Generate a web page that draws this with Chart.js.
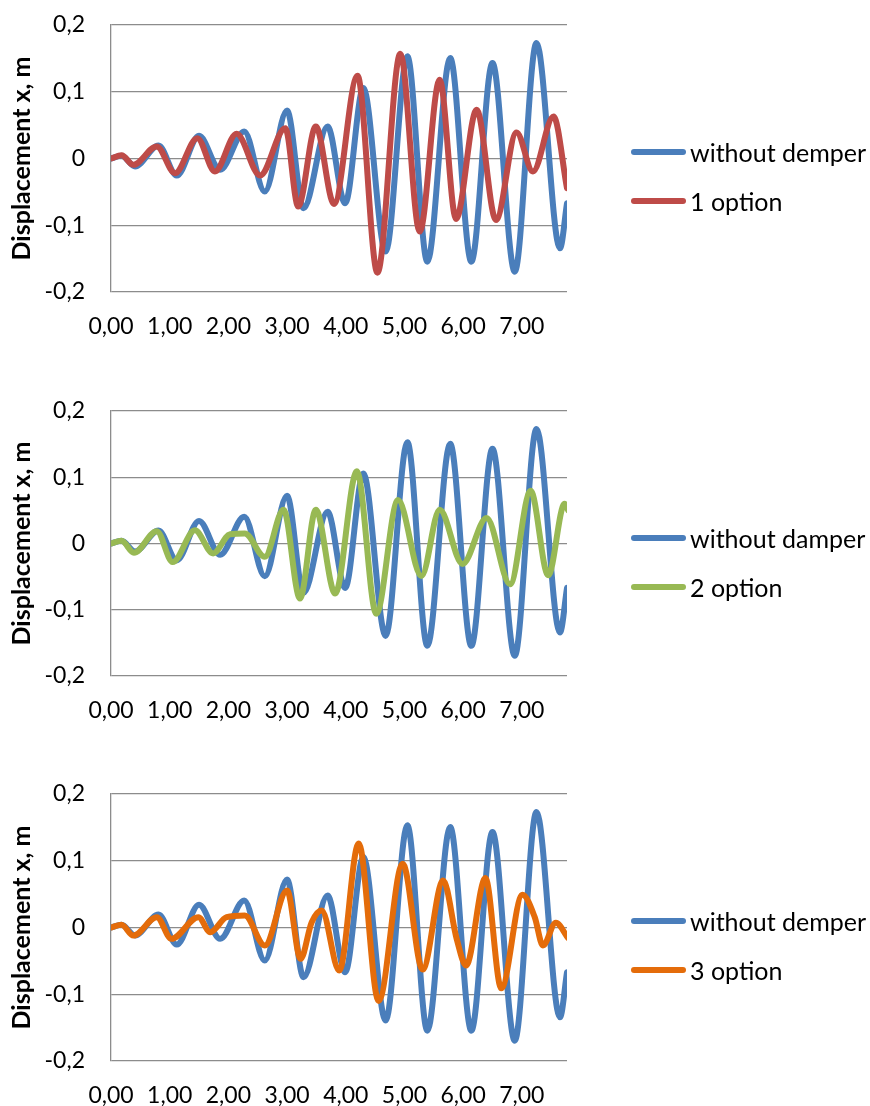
<!DOCTYPE html>
<html>
<head>
<meta charset="utf-8">
<script src="https://cdn.jsdelivr.net/npm/chart.js@4.4.1/dist/chart.umd.min.js"></script>
<style>
  body { margin: 0; width: 870px; height: 1106px; overflow: hidden; background: #fff; font-family: Lato, sans-serif; }
  .panel { position: absolute; left: 0; width: 870px; }
  .legend { position: absolute; left: 631px; top: 128px; }
  .item { height: 48.5px; display: flex; align-items: center; font-size: 25px; color: #000; }
  .swatch { width: 55px; height: 6px; border-radius: 3px; margin-right: 4px; }
</style>
</head>
<body>
<div class="panel" id="panel1" style="top:0"><canvas id="chart1"></canvas><div class="legend" id="legend1"></div></div>
<div class="panel" id="panel2" style="top:386px"><canvas id="chart2"></canvas><div class="legend" id="legend2"></div></div>
<div class="panel" id="panel3" style="top:769px"><canvas id="chart3"></canvas><div class="legend" id="legend3"></div></div>
<script>
// time, s  /  displacement, m
const timeBase = [0, 0.18, 0.41, 0.81, 1.12, 1.50, 1.86, 2.27, 2.62, 3.00, 3.28, 3.69, 3.99, 4.30, 4.68, 5.05, 5.39, 5.78, 6.14, 6.50, 6.88, 7.25, 7.65, 7.77];
const dispBase = [0, 0.004, -0.012, 0.0195, -0.0255, 0.034, -0.017, 0.0405, -0.0495, 0.072, -0.0745, 0.048, -0.067, 0.1055, -0.1395, 0.153, -0.1545, 0.1505, -0.1545, 0.143, -0.1695, 0.173, -0.1345, -0.067];

const timeOpt1 = [0, 0.18, 0.38, 0.78, 1.09, 1.47, 1.77, 2.14, 2.54, 2.97, 3.19, 3.49, 3.80, 4.20, 4.54, 4.93, 5.26, 5.60, 5.88, 6.23, 6.56, 6.91, 7.19, 7.54, 7.77];
const dispOpt1 = [0, 0.005, -0.0095, 0.018, -0.022, 0.0305, -0.0195, 0.037, -0.0255, 0.0455, -0.072, 0.048, -0.068, 0.124, -0.171, 0.157, -0.1095, 0.118, -0.0905, 0.073, -0.092, 0.039, -0.0195, 0.063, -0.0445];

const timeOpt2 = [0, 0.18, 0.39, 0.78, 1.05, 1.43, 1.74, 2.03, 2.28, 2.62, 2.94, 3.22, 3.49, 3.82, 4.19, 4.52, 4.89, 5.29, 5.60, 5.99, 6.40, 6.80, 7.15, 7.45, 7.73, 7.79];
const dispOpt2 = [0, 0.004, -0.014, 0.0185, -0.028, 0.020, -0.015, 0.014, 0.015, -0.020, 0.051, -0.083, 0.051, -0.0755, 0.109, -0.106, 0.0655, -0.049, 0.051, -0.031, 0.0385, -0.0615, 0.0795, -0.048, 0.060, 0.050];

const timeOpt3 = [0, 0.18, 0.38, 0.78, 1.03, 1.49, 1.69, 1.97, 2.28, 2.62, 3.00, 3.23, 3.42, 3.59, 3.89, 4.22, 4.56, 4.97, 5.31, 5.66, 5.89, 6.05, 6.38, 6.65, 7.01, 7.22, 7.36, 7.58, 7.79];
const dispOpt3 = [0, 0.004, -0.012, 0.0155, -0.017, 0.0155, -0.007, 0.0155, 0.018, -0.027, 0.0555, -0.047, 0.008, 0.0255, -0.0645, 0.126, -0.11, 0.0955, -0.063, 0.0705, -0.017, -0.057, 0.074, -0.091, 0.049, 0.0155, -0.027, 0.007, -0.016];

const xTicks = [0, 1, 2, 3, 4, 5, 6, 7];
const yTicks = [-0.2, -0.1, 0, 0.1, 0.2];
const xMax = 7.77;

const yTitle = 'Displacement x, m';
const gridColor = '#8c8c8c';

let charts = {};

function toPoints(xs, ys) {
  return xs.map((x, i) => ({ x, y: ys[i] }));
}

function comma(v, digits) {
  return v.toFixed(digits).replace('.', ',');
}

function makeChart(n, baseLabel, label, xs, ys, color, height) {
  const canvas = document.getElementById('chart' + n);
  canvas.width = 870;
  canvas.height = height;

  const datasets = [
    { label: baseLabel, data: toPoints(timeBase, dispBase), borderColor: '#4a7ebb', order: 1 },
    { label: label, data: toPoints(xs, ys), borderColor: color, order: 0 }
  ];
  datasets.forEach(d => {
    d.borderWidth = 6;
    d.pointRadius = 0;
    d.cubicInterpolationMode = 'monotone';
    d.borderCapStyle = 'round';
    d.borderJoinStyle = 'round';
    d.fill = false;
  });

  charts[n] = new Chart(canvas, {
    type: 'line',
    data: { datasets },
    options: {
      responsive: false,
      animation: false,
      layout: { padding: { left: 0, right: 303, top: 25, bottom: 0 } },
      plugins: { legend: { display: false }, tooltip: { enabled: false } },
      scales: {
        x: {
          type: 'linear',
          min: 0,
          max: xMax,
          afterFit: s => { s.height = 58; },
          afterBuildTicks: s => { s.ticks = xTicks.map(v => ({ value: v })); },
          grid: { display: false },
          border: { display: false },
          ticks: {
            padding: 13,
            maxRotation: 0,
            autoSkip: false,
            color: '#000',
            font: { family: 'Lato', size: 23 },
            callback: v => comma(v, 2)
          }
        },
        y: {
          min: -0.2,
          max: 0.2,
          // fixed axis width, and labels may hang over the top/bottom edge
          afterFit: s => { s.width = 111; s.paddingTop = 0; s.paddingBottom = 0; },
          afterBuildTicks: s => { s.ticks = yTicks.map(v => ({ value: v })); },
          grid: { color: gridColor, lineWidth: 1.3, drawTicks: false },
          border: { display: true, color: gridColor, width: 1.3 },
          ticks: {
            padding: 26,
            color: '#000',
            font: { family: 'Lato', size: 23 },
            callback: v => (Math.abs(v) < 1e-9 ? '0' : comma(v, 1))
          },
          title: {
            display: true,
            text: yTitle,
            color: '#000',
            padding: { top: 7, bottom: 0 },
            font: { family: 'Lato', size: 25, weight: 'bold' }
          }
        }
      }
    }
  });

  // legend as html, same order as the datasets
  const legend = document.getElementById('legend' + n);
  legend.innerHTML = datasets.map(d =>
    `<div class="item"><span class="swatch" style="background:${d.borderColor}"></span>${d.label}</div>`
  ).join('');
}

Promise.all([
  document.fonts.load('23px Lato'),
  document.fonts.load('bold 25px Lato')
]).finally(() => {
  makeChart(1, 'without demper', '1 option', timeOpt1, dispOpt1, '#be4b48', 350);
  makeChart(2, 'without damper', '2 option', timeOpt2, dispOpt2, '#98b954', 348);
  makeChart(3, 'without demper', '3 option', timeOpt3, dispOpt3, '#e46c0a', 350);
});
</script>
</body>
</html>
